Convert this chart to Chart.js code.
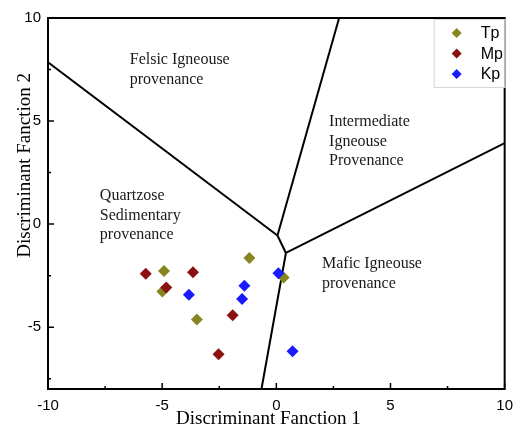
<!DOCTYPE html>
<html>
<head>
<meta charset="utf-8">
<script src="https://cdn.jsdelivr.net/npm/chart.js@4.4.1/dist/chart.umd.min.js"></script>
<style>
  html, body { margin: 0; padding: 0; background: #fff; }
</style>
</head>
<body>
<canvas id="dfChart" width="521" height="432"></canvas>
<script>
// sample scores
const tpX = [-4.92, -1.18, 0.32, -4.99, -3.48];
const tpY = [-2.27, -1.65, -2.59, -3.27, -4.63];
const mpX = [-5.72, -3.65, -4.82, -1.91, -2.53];
const mpY = [-2.41, -2.33, -3.07, -4.42, -6.31];
const kpX = [0.09, -1.40, -3.83, -1.50, 0.71];
const kpY = [-2.39, -2.99, -3.43, -3.63, -6.17];

const xTicks = [-10, -5, 0, 5, 10];
const yTicks = [-5, 0, 5, 10];

const xTitle = 'Discriminant Fanction 1';
const yTitle = 'Discriminant Fanction 2';

// field boundaries (end points in discriminant units)
const boundaries = [
    [[-10, 7.85], [0.05, -0.55]],
    [[0.05, -0.55], [2.75, 10]],
    [[0.05, -0.55], [0.42, -1.4]],
    [[0.42, -1.4], [10, 3.93]],
    [[0.42, -1.4], [-0.65, -8]]
];

const regionLabels = [
    { x: -6.42, y: 7.96, lines: ['Felsic Igneouse', 'provenance'] },
    { x: 2.31, y: 4.95, lines: ['Intermediate', 'Igneouse', 'Provenance'] },
    { x: -7.73, y: 1.36, lines: ['Quartzose', 'Sedimentary', 'provenance'] },
    { x: 2.0, y: -1.94, lines: ['Mafic Igneouse', 'provenance'] }
];

const series = [
    { label: 'Tp', xs: tpX, ys: tpY, color: '#86861f', order: 2 },
    { label: 'Mp', xs: mpX, ys: mpY, color: '#8b1010', order: 1 },
    { label: 'Kp', xs: kpX, ys: kpY, color: '#1a1aff', order: 0 }
];

const toPoints = (xs, ys) => xs.map((x, i) => ({ x: x, y: ys[i] }));

const datasets = series.map(s => ({
    label: s.label,
    data: toPoints(s.xs, s.ys),
    backgroundColor: s.color,
    borderColor: s.color,
    borderWidth: 0,
    pointStyle: 'rectRot',
    pointRadius: 6,
    order: s.order
}));

boundaries.forEach(b => {
    datasets.push({
        label: '',
        data: b.map(p => ({ x: p[0], y: p[1] })),
        showLine: true,
        borderColor: '#000',
        borderWidth: 2,
        pointRadius: 0,
        order: 5
    });
});

const serif = 'Liberation Serif';
const sans = 'Liberation Sans';

const framePlugin = {
    id: 'frame',
    afterDatasetsDraw(chart) {
        const { ctx, chartArea: a, scales: { x, y } } = chart;
        ctx.save();

        // region names
        ctx.fillStyle = '#1a1a1a';
        ctx.font = '16px "' + serif + '"';
        ctx.textAlign = 'left';
        ctx.textBaseline = 'middle';
        regionLabels.forEach(r => {
            const px = x.getPixelForValue(r.x);
            const py = y.getPixelForValue(r.y);
            r.lines.forEach((t, i) => ctx.fillText(t, px, py + i * 19.5));
        });

        // axis titles (sit a little off-centre in the original)
        ctx.fillStyle = '#000';
        ctx.font = '19px "' + serif + '"';
        ctx.textAlign = 'center';
        ctx.fillText(xTitle, x.getPixelForValue(-0.35), a.bottom + 30);
        ctx.save();
        ctx.translate(25, y.getPixelForValue(2.85));
        ctx.rotate(-Math.PI / 2);
        ctx.fillText(yTitle, 0, 0);
        ctx.restore();
        ctx.textAlign = 'left';

        // box + inward ticks
        ctx.strokeStyle = '#000';
        ctx.lineWidth = 2;
        ctx.strokeRect(a.left, a.top, a.right - a.left, a.bottom - a.top);
        ctx.lineWidth = 1.5;
        ctx.beginPath();
        for (let v = -10; v <= 10; v += 2.5) {
            const px = x.getPixelForValue(v);
            const len = v % 5 === 0 ? 6 : 3;
            ctx.moveTo(px, a.bottom);
            ctx.lineTo(px, a.bottom - len);
        }
        for (let v = -7.5; v <= 10; v += 2.5) {
            const py = y.getPixelForValue(v);
            const len = v % 5 === 0 ? 6 : 3;
            ctx.moveTo(a.left, py);
            ctx.lineTo(a.left + len, py);
        }
        ctx.stroke();

        // legend
        const lx = a.right - 71, ly = a.top + 1, lw = 71, lh = 68;
        ctx.fillStyle = '#fff';
        ctx.fillRect(lx, ly, lw, lh);
        ctx.strokeStyle = '#d8d8d8';
        ctx.lineWidth = 1;
        ctx.strokeRect(lx + 0.5, ly + 0.5, lw, lh);
        ctx.font = '16px "' + sans + '"';
        series.forEach((s, i) => {
            const cy = ly + 14 + i * 20.5;
            const cx = lx + 23;
            ctx.fillStyle = s.color;
            ctx.beginPath();
            ctx.moveTo(cx, cy - 5);
            ctx.lineTo(cx + 5, cy);
            ctx.lineTo(cx, cy + 5);
            ctx.lineTo(cx - 5, cy);
            ctx.closePath();
            ctx.fill();
            ctx.fillStyle = '#000';
            ctx.fillText(s.label, lx + 47, cy + 1);
        });
        ctx.restore();
    }
};

new Chart(document.getElementById('dfChart'), {
    type: 'scatter',
    data: { datasets: datasets },
    options: {
        responsive: false,
        animation: false,
        layout: { padding: { top: 18, right: 15, left: 0, bottom: 0 } },
        plugins: {
            legend: { display: false },
            tooltip: { enabled: false }
        },
        scales: {
            x: {
                type: 'linear',
                min: -10,
                max: 10,
                afterBuildTicks: s => { s.ticks = xTicks.map(v => ({ value: v })); },
                afterFit: s => { s.height = 43; },
                grid: { display: false, drawTicks: false },
                border: { display: false },
                ticks: { color: '#000', font: { family: sans, size: 15 }, padding: 8, maxRotation: 0 }
            },
            y: {
                type: 'linear',
                min: -8,
                max: 10,
                afterBuildTicks: s => { s.ticks = yTicks.map(v => ({ value: v })); },
                afterFit: s => { s.width = 48; },
                grid: { display: false, drawTicks: false },
                border: { display: false },
                ticks: { color: '#000', font: { family: sans, size: 15 }, padding: 7 }
            }
        }
    },
    plugins: [framePlugin]
});
</script>
</body>
</html>
